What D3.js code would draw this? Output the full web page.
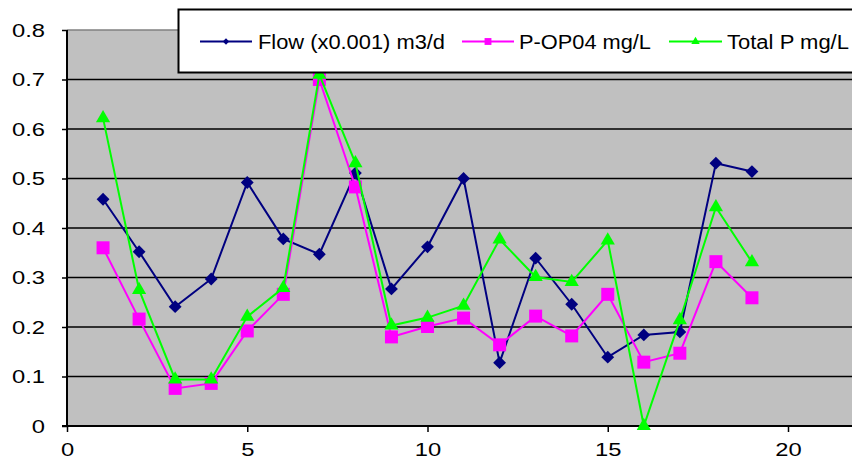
<!DOCTYPE html>
<html>
<head>
<meta charset="utf-8">
<script src="https://cdn.jsdelivr.net/npm/d3@7"></script>
<style>
  body { margin: 0; background: #fff; }
  svg { display: block; font-family: "Liberation Sans", Arial, sans-serif; }
</style>
</head>
<body>
<div id="chart"></div>
<script>
"use strict";

const samples = d3.range(1, 20);
const flow = [0.458, 0.352, 0.241, 0.297, 0.492, 0.378, 0.347, 0.511, 0.277, 0.362, 0.500, 0.128, 0.339, 0.246, 0.139, 0.184, 0.190, 0.531, 0.514];
const pop04 = [0.360, 0.216, 0.076, 0.086, 0.192, 0.266, 0.700, 0.483, 0.180, 0.201, 0.218, 0.164, 0.222, 0.182, 0.266, 0.129, 0.147, 0.332, 0.259];
const totalP = [0.622, 0.275, 0.094, 0.094, 0.221, 0.279, 0.710, 0.531, 0.203, 0.219, 0.243, 0.377, 0.301, 0.291, 0.375, 0.000, 0.214, 0.442, 0.331];
const seriesNames = ["Flow (x0.001) m3/d", "P-OP04 mg/L", "Total P mg/L"];
const yTicks = [0, 0.1, 0.2, 0.3, 0.4, 0.5, 0.6, 0.7, 0.8];
const xTicks = [0, 5, 10, 15, 20];

const width = 852, height = 462;
const plotLeft = 67, plotTop = 30, plotBottom = 426;
const stretch = 1.25;   // the original font is drawn wide

const series = [
	{ name: seriesNames[0], values: flow, color: "#000080", symbol: d3.symbolDiamond2, size: 105, legendSize: 26 },
	{ name: seriesNames[1], values: pop04, color: "#FF00FF", symbol: d3.symbolSquare2, size: 215, legendSize: 60 },
	{ name: seriesNames[2], values: totalP, color: "#00FF00", symbol: d3.symbolTriangle2, size: 145, legendSize: 50 }
];

const x = d3.scaleLinear().domain([0, 22]).range([plotLeft, plotLeft + 22 * 36.05]);
const y = d3.scaleLinear().domain([0, 0.8]).range([plotBottom, plotTop]);

const svg = d3.select("#chart").append("svg")
	.attr("width", width)
	.attr("height", height);

// plot area
svg.append("rect")
	.attr("x", plotLeft).attr("y", plotTop)
	.attr("width", x(22) - plotLeft).attr("height", plotBottom - plotTop)
	.attr("fill", "#C0C0C0");

svg.append("line")
	.attr("x1", plotLeft).attr("x2", x(22))
	.attr("y1", plotTop).attr("y2", plotTop)
	.attr("stroke", "#808080").attr("stroke-width", 1.5);

// grid
svg.append("g")
	.selectAll("line")
	.data(yTicks.filter(t => t > 0 && t < 0.8))
	.join("line")
	.attr("x1", plotLeft).attr("x2", x(22))
	.attr("y1", d => y(d)).attr("y2", d => y(d))
	.attr("stroke", "#000").attr("stroke-width", 1.5);

// axes
const yAxis = svg.append("g")
	.attr("transform", `translate(${plotLeft},0)`)
	.call(d3.axisLeft(y).tickValues(yTicks).tickSize(5).tickPadding(17).tickFormat(d => d === 0 ? "0" : d3.format(".1f")(d)));
yAxis.select(".domain").remove();

const xAxis = svg.append("g")
	.attr("transform", `translate(0,${plotBottom})`)
	.call(d3.axisBottom(x).tickValues(xTicks).tickSize(6).tickPadding(11).tickFormat(d3.format("d")));
xAxis.select(".domain").remove();

svg.selectAll(".tick line").attr("stroke", "#000").attr("stroke-width", 1.5);
svg.selectAll(".tick text").attr("font-size", 19).attr("fill", "#000")
	.attr("font-family", "'Liberation Sans', Arial, sans-serif")
	.each(function() {
		const w = this.getComputedTextLength();
		d3.select(this).attr("textLength", w * stretch).attr("lengthAdjust", "spacingAndGlyphs");
	});

svg.append("line")
	.attr("x1", plotLeft).attr("x2", plotLeft).attr("y1", plotTop).attr("y2", plotBottom)
	.attr("stroke", "#000").attr("stroke-width", 2);
svg.append("line")
	.attr("x1", plotLeft - 5).attr("x2", x(22)).attr("y1", plotBottom).attr("y2", plotBottom)
	.attr("stroke", "#000").attr("stroke-width", 2);

// series
const line = d3.line()
	.x((d, i) => x(samples[i]))
	.y(d => y(d));

series.forEach(s => {
	const g = svg.append("g");
	g.append("path")
		.attr("d", line(s.values))
		.attr("fill", "none")
		.attr("stroke", s.color)
		.attr("stroke-width", 2);
	g.selectAll("path.marker")
		.data(s.values)
		.join("path")
		.attr("class", "marker")
		.attr("transform", (d, i) => `translate(${x(samples[i])},${y(d)})`)
		.attr("d", d3.symbol().type(s.symbol).size(s.size))
		.attr("fill", s.color);
});

// legend
const legend = svg.append("g");
legend.append("rect")
	.attr("x", 178.5).attr("y", 9.5)
	.attr("width", 690).attr("height", 63)
	.attr("fill", "#fff")
	.attr("stroke", "#000").attr("stroke-width", 2);

const legendItems = [
	{ x1: 200, x2: 252, tx: 258, tw: 187 },
	{ x1: 462, x2: 514, tx: 519, tw: 132 },
	{ x1: 669, x2: 722, tx: 727, tw: 122 }
];

series.forEach((s, i) => {
	const it = legendItems[i];
	const ly = 41.5;
	legend.append("line")
		.attr("x1", it.x1).attr("x2", it.x2)
		.attr("y1", ly).attr("y2", ly)
		.attr("stroke", s.color).attr("stroke-width", 2);
	legend.append("path")
		.attr("transform", `translate(${(it.x1 + it.x2) / 2},${ly})`)
		.attr("d", d3.symbol().type(s.symbol).size(s.legendSize))
		.attr("fill", s.color);
	legend.append("text")
		.attr("x", it.tx).attr("y", ly + 7)
		.attr("font-size", 20)
		.attr("textLength", it.tw)
		.attr("lengthAdjust", "spacingAndGlyphs")
		.attr("fill", "#000")
		.text(s.name);
});
</script>
</body>
</html>
